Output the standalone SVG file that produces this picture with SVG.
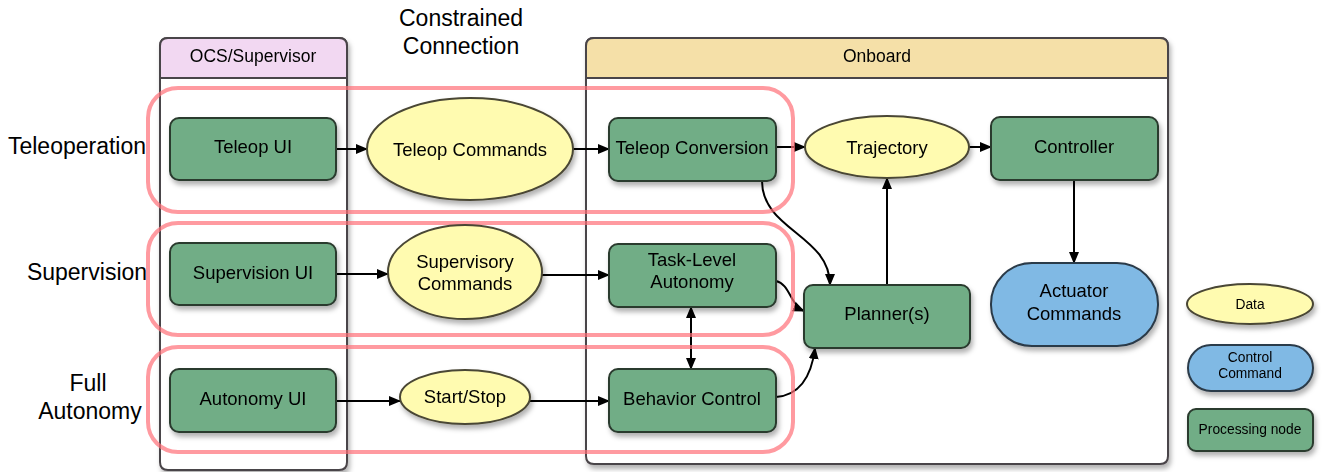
<svg xmlns="http://www.w3.org/2000/svg" width="1322" height="472" viewBox="0 0 1322 472">
<defs>
<style>
text{font-family:"Liberation Sans",Arial,sans-serif;fill:#000;text-anchor:middle;dominant-baseline:central}
.proc{fill:#71ad86;stroke:#2a3a2e;stroke-width:2}
.data{fill:#fffbb0;stroke:#4a4634;stroke-width:2}
.ctrl{fill:#80b9e4;stroke:#2c3a48;stroke-width:2}
.lane{fill:#fff;stroke:#4a4448;stroke-width:2}
.zone{fill:none;stroke:#ff6f78;stroke-width:4;opacity:0.7}
.edge{fill:none;stroke:#000;stroke-width:2}
.n{font-size:18.5px}
.hd{font-size:17.5px}
.lbl{font-size:23px}
.lg{font-size:13.8px}
</style>
<filter id="sh" x="-10%" y="-10%" width="130%" height="140%">
<feDropShadow dx="2" dy="4" stdDeviation="2.5" flood-color="#000" flood-opacity="0.3"/>
</filter>
<marker id="ar" markerWidth="12" markerHeight="10" refX="11" refY="5" orient="auto" markerUnits="userSpaceOnUse">
<path d="M0,0 L12,5 L0,10 z" fill="#000"/>
</marker>
<marker id="as" markerWidth="12" markerHeight="10" refX="1" refY="5" orient="auto" markerUnits="userSpaceOnUse">
<path d="M12,0 L0,5 L12,10 z" fill="#000"/>
</marker>
</defs>
<rect width="1322" height="472" fill="#fff"/>

<g id="lane-ocs" filter="url(#sh)">
<path class="lane" d="M168,38 H339 Q347,38 347,46 V462 Q347,470 339,470 H168 Q160,470 160,462 V46 Q160,38 168,38 Z"/>
<path d="M168,38 H339 Q347,38 347,46 V78 H160 V46 Q160,38 168,38 Z" fill="#f2d8f2" stroke="#4a4448" stroke-width="2"/>
<text class="hd" x="253" y="56">OCS/Supervisor</text>
</g>
<g id="lane-onboard" filter="url(#sh)">
<path class="lane" d="M594,38 H1160 Q1168,38 1168,46 V456 Q1168,464 1160,464 H594 Q586,464 586,456 V46 Q586,38 594,38 Z"/>
<path d="M594,38 H1160 Q1168,38 1168,46 V78 H586 V46 Q586,38 594,38 Z" fill="#f5e0a8" stroke="#4a4448" stroke-width="2"/>
<text class="hd" x="877" y="56">Onboard</text>
</g>

<g id="title"><text class="lbl" x="461" y="18">Constrained</text><text class="lbl" x="461" y="46">Connection</text></g>

<g id="row-labels">
<text class="lbl" x="77" y="146">Teleoperation</text>
<text class="lbl" x="87" y="272">Supervision</text>
<text class="lbl" x="88" y="383">Full</text>
<text class="lbl" x="90" y="411">Autonomy</text>
</g>

<g id="connectors">
<line class="edge" x1="336" y1="149" x2="367" y2="149" marker-end="url(#ar)"/>
<line class="edge" x1="573" y1="149" x2="609" y2="149" marker-end="url(#ar)"/>
<line class="edge" x1="776" y1="147" x2="805" y2="147" marker-end="url(#ar)"/>
<line class="edge" x1="969" y1="147" x2="991" y2="147" marker-end="url(#ar)"/>
<line class="edge" x1="1074" y1="180" x2="1074" y2="263" marker-end="url(#ar)"/>
<path class="edge" d="M762,181 C762,230 830,235 830,285" marker-end="url(#ar)"/>
<line class="edge" x1="887" y1="285" x2="887" y2="178" marker-end="url(#ar)"/>
<line class="edge" x1="336" y1="274" x2="388" y2="274" marker-end="url(#ar)"/>
<line class="edge" x1="542" y1="275" x2="609" y2="275" marker-end="url(#ar)"/>
<path class="edge" d="M776,281 C790,284 790,305 804,311" marker-end="url(#ar)"/>
<line class="edge" x1="691" y1="307" x2="691" y2="369" marker-start="url(#as)" marker-end="url(#ar)"/>
<line class="edge" x1="336" y1="401" x2="400" y2="401" marker-end="url(#ar)"/>
<line class="edge" x1="530" y1="401" x2="609" y2="401" marker-end="url(#ar)"/>
<path class="edge" d="M776,397 C802,395 812,372 815,348" marker-end="url(#ar)"/>
</g>

<g id="zones">
<rect class="zone" x="148" y="88" width="645" height="124" rx="30"/>
<rect class="zone" x="148" y="223" width="645" height="112" rx="30"/>
<rect class="zone" x="148" y="347" width="645" height="105" rx="30"/>
</g>

<g id="teleop-ui" filter="url(#sh)"><rect class="proc" x="170" y="118" width="166" height="62" rx="9"/><text class="n" x="253" y="146">Teleop UI</text></g>
<g id="teleop-commands" filter="url(#sh)"><ellipse class="data" cx="470" cy="149" rx="103" ry="51"/><text class="n" x="470" y="149">Teleop Commands</text></g>
<g id="teleop-conversion" filter="url(#sh)"><rect class="proc" x="609" y="118" width="167" height="63" rx="9"/><text class="n" x="692" y="147">Teleop Conversion</text></g>
<g id="trajectory" filter="url(#sh)"><ellipse class="data" cx="887" cy="147" rx="82" ry="31"/><text class="n" x="887" y="147">Trajectory</text></g>
<g id="controller" filter="url(#sh)"><rect class="proc" x="991" y="117" width="167" height="63" rx="9"/><text class="n" x="1074" y="146">Controller</text></g>

<g id="supervision-ui" filter="url(#sh)"><rect class="proc" x="170" y="243" width="166" height="62" rx="9"/><text class="n" x="253" y="272">Supervision UI</text></g>
<g id="supervisory-commands" filter="url(#sh)"><ellipse class="data" cx="465" cy="272" rx="77" ry="47"/><text class="n" x="465" y="261">Supervisory</text><text class="n" x="465" y="283">Commands</text></g>
<g id="task-level" filter="url(#sh)"><rect class="proc" x="609" y="244" width="167" height="63" rx="9"/><text class="n" x="692" y="259">Task-Level</text><text class="n" x="692" y="281">Autonomy</text></g>
<g id="planner" filter="url(#sh)"><rect class="proc" x="804" y="285" width="166" height="63" rx="9"/><text class="n" x="887" y="313">Planner(s)</text></g>
<g id="actuator-commands" filter="url(#sh)"><rect class="ctrl" x="991" y="263" width="167" height="83" rx="41"/><text class="n" x="1074" y="290">Actuator</text><text class="n" x="1074" y="313">Commands</text></g>

<g id="autonomy-ui" filter="url(#sh)"><rect class="proc" x="170" y="369" width="166" height="63" rx="9"/><text class="n" x="253" y="398">Autonomy UI</text></g>
<g id="start-stop" filter="url(#sh)"><ellipse class="data" cx="465" cy="397" rx="65" ry="27"/><text class="n" x="465" y="396">Start/Stop</text></g>
<g id="behavior-control" filter="url(#sh)"><rect class="proc" x="609" y="369" width="167" height="63" rx="9"/><text class="n" x="692" y="398">Behavior Control</text></g>

<g id="legend-data" filter="url(#sh)"><ellipse class="data" cx="1250" cy="304" rx="63" ry="20"/><text class="lg" x="1250" y="304">Data</text></g>
<g id="legend-control" filter="url(#sh)"><rect class="ctrl" x="1188" y="345" width="125" height="46" rx="23"/><text class="lg" x="1250" y="357">Control</text><text class="lg" x="1250" y="373">Command</text></g>
<g id="legend-processing" filter="url(#sh)"><rect class="proc" x="1188" y="409" width="125" height="42" rx="8"/><text class="lg" x="1250" y="429">Processing node</text></g>
</svg>
